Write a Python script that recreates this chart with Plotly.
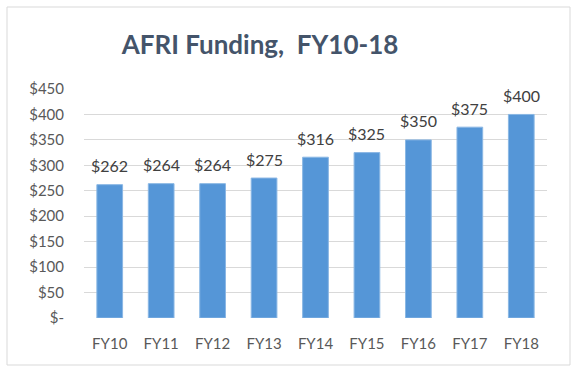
import plotly.graph_objects as go

categories = ["FY10", "FY11", "FY12", "FY13", "FY14", "FY15", "FY16", "FY17", "FY18"]
funding = [262, 264, 264, 275, 316, 325, 350, 375, 400]
ytick_vals = [0, 50, 100, 150, 200, 250, 300, 350, 400, 450]
ytick_text = ["$-", "$50", "$100", "$150", "$200", "$250", "$300", "$350", "$400", "$450"]

W, H = 580, 376
L, R, T, B = 84, 33, 89, 58
pw = W - L - R
ph = H - T - B

fig = go.Figure(go.Bar(
    x=categories, y=funding,
    marker=dict(color="#5596d7", line=dict(color="#8ab7e4", width=1)),
    hoverinfo="x+y",
))

for c, v in zip(categories, funding):
    fig.add_annotation(x=c, y=v, text=f"${v}", showarrow=False,
                       yanchor="middle", yshift=19,
                       font=dict(family="Lato", size=16, color="#404040"))

def px2paper_x(px):
    return (px - L) / pw

def px2paper_y(py):
    return (H - B - py) / ph

fig.add_shape(type="rect", xref="paper", yref="paper",
              x0=px2paper_x(7), x1=px2paper_x(570), y0=px2paper_y(365), y1=px2paper_y(7),
              line=dict(color="#d9d9d9", width=1), layer="below")

fig.update_layout(
    width=W, height=H,
    margin=dict(l=L, r=R, t=T, b=B),
    paper_bgcolor="white", plot_bgcolor="white",
    bargap=0.5,
    showlegend=False,
    title=dict(text="<b>AFRI Funding,\u00a0 FY10-18</b>", x=260 / W, xref="container", xanchor="center",
               y=1 - 45 / H, yanchor="middle",
               font=dict(family="Lato", size=26, color="#44546a")),
    font=dict(family="Lato", color="#595959", size=15),
    xaxis=dict(showgrid=False, showline=False, ticks="", ticklabelstandoff=15,
               tickfont=dict(size=15, color="#595959")),
    yaxis=dict(range=[0, 450], tickvals=ytick_vals, ticktext=ytick_text,
               showgrid=True, gridcolor="#d9d9d9", gridwidth=1, zeroline=False,
               ticks="", ticklabelstandoff=19,
               tickfont=dict(size=15, color="#595959")),
)

fig.write_html("out.html", config={"displayModeBar": False},
               post_script="document.body.style.margin='0';")
